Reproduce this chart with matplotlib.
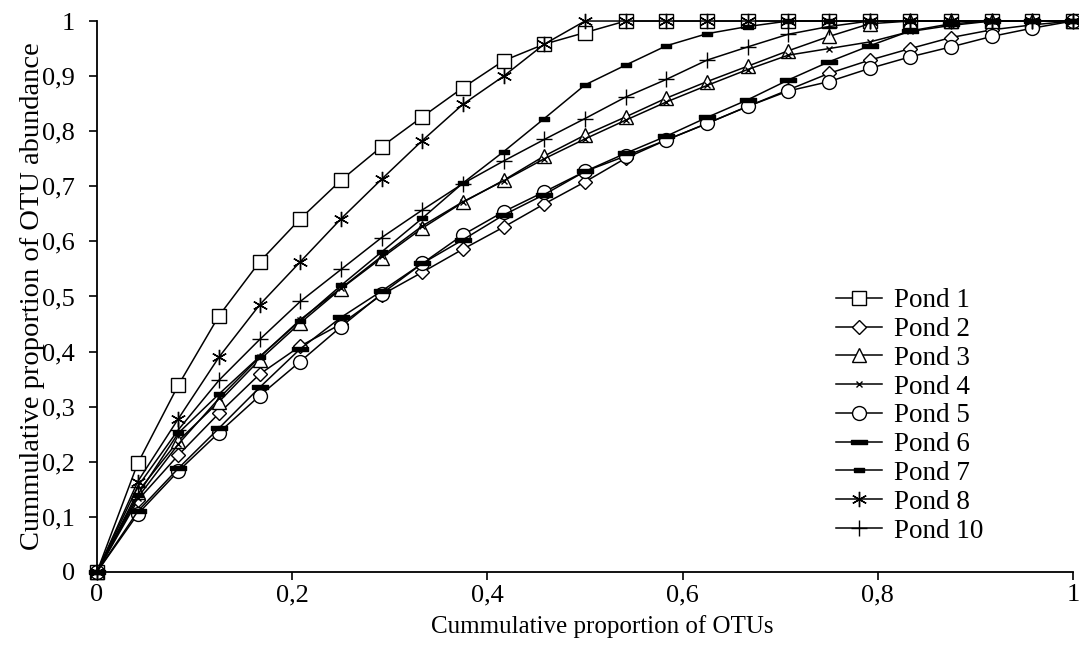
import matplotlib
matplotlib.use("Agg")
import matplotlib.pyplot as plt
from matplotlib.ticker import FuncFormatter

# proportion of OTUs (25 steps)
otu_frac = [0, 0.0417, 0.0833, 0.125, 0.1667, 0.2083, 0.25, 0.2917, 0.3333,
            0.375, 0.4167, 0.4583, 0.5, 0.5417, 0.5833, 0.625, 0.6667,
            0.7083, 0.75, 0.7917, 0.8333, 0.875, 0.9167, 0.9583, 1]

pond1 = [0, 0.197, 0.339, 0.465, 0.563, 0.641, 0.711, 0.772, 0.826, 0.879,
         0.928, 0.958, 0.979, 1, 1, 1, 1, 1, 1, 1, 1, 1, 1, 1, 1]
pond2 = [0, 0.130, 0.212, 0.288, 0.359, 0.410, 0.450, 0.503, 0.544, 0.586,
         0.626, 0.668, 0.708, 0.751, 0.784, 0.814, 0.845, 0.875, 0.905, 0.929,
         0.950, 0.970, 0.984, 0.993, 1]
pond3 = [0, 0.145, 0.238, 0.309, 0.385, 0.452, 0.514, 0.570, 0.624, 0.671,
         0.711, 0.755, 0.793, 0.826, 0.860, 0.890, 0.918, 0.946, 0.972, 0.995,
         1, 1, 1, 1, 1]
pond4 = [0, 0.135, 0.232, 0.315, 0.390, 0.458, 0.515, 0.573, 0.628, 0.672,
         0.710, 0.750, 0.786, 0.820, 0.853, 0.883, 0.912, 0.938, 0.950, 0.962,
         0.981, 0.992, 1, 1, 1]
pond5 = [0, 0.105, 0.183, 0.253, 0.320, 0.382, 0.445, 0.505, 0.560, 0.612,
         0.654, 0.690, 0.727, 0.755, 0.784, 0.814, 0.845, 0.873, 0.890, 0.914,
         0.935, 0.953, 0.972, 0.987, 1]
pond6 = [0, 0.110, 0.188, 0.261, 0.335, 0.405, 0.462, 0.510, 0.560, 0.603,
         0.648, 0.685, 0.727, 0.760, 0.791, 0.825, 0.857, 0.893, 0.926, 0.955,
         0.982, 0.995, 1, 1, 1]
pond7 = [0, 0.140, 0.252, 0.323, 0.391, 0.456, 0.520, 0.581, 0.642, 0.706,
         0.763, 0.823, 0.884, 0.920, 0.955, 0.977, 0.990, 1, 1, 1, 1, 1, 1, 1, 1]
pond8 = [0, 0.164, 0.278, 0.390, 0.485, 0.563, 0.641, 0.713, 0.783, 0.849,
         0.900, 0.958, 1, 1, 1, 1, 1, 1, 1, 1, 1, 1, 1, 1, 1]
pond10 = [0, 0.155, 0.258, 0.348, 0.422, 0.491, 0.549, 0.607, 0.657, 0.705,
          0.746, 0.785, 0.823, 0.862, 0.894, 0.929, 0.953, 0.976, 0.990, 1,
          1, 1, 1, 1, 1]

labels = ["Pond 1", "Pond 2", "Pond 3", "Pond 4", "Pond 5",
          "Pond 6", "Pond 7", "Pond 8", "Pond 10"]
series = [pond1, pond2, pond3, pond4, pond5, pond6, pond7, pond8, pond10]

# thick and thin horizontal bars for ponds 6 and 7
bar_wide = [(-1, -0.3), (1, -0.3), (1, 0.3), (-1, 0.3), (-1, -0.3)]
bar_small = [(-1, -0.45), (1, -0.45), (1, 0.45), (-1, 0.45), (-1, -0.45)]

styles = [
    dict(marker="s", ms=10, mfc="white"),
    dict(marker="D", ms=7, mfc="white"),
    dict(marker="^", ms=10, mfc="white"),
    dict(marker="x", ms=4, mew=1),
    dict(marker="o", ms=10, mfc="white"),
    dict(marker=bar_wide, ms=11, mfc="black"),
    dict(marker=bar_small, ms=7, mfc="black"),
    dict(marker=(6, 2, 0), ms=11, mew=1),
    dict(marker="+", ms=11, mew=1),
]

plt.rcParams["font.family"] = ["Liberation Serif", "DejaVu Serif"]

fig = plt.figure(figsize=(10.79, 6.61), dpi=100)
ax = fig.add_axes([0.0899, 0.1347, 0.9045, 0.8335])

for vals, lab, st in zip(series, labels, styles):
    ax.plot(otu_frac, vals, color="black", lw=1.1, mec="black",
            label=lab, clip_on=False, **st)

ax.set_xlim(0, 1)
ax.set_ylim(0, 1)
ax.set_xticks([0, 0.2, 0.4, 0.6, 0.8, 1])
ax.set_yticks([0, 0.1, 0.2, 0.3, 0.4, 0.5, 0.6, 0.7, 0.8, 0.9, 1])

comma = FuncFormatter(lambda v, p: ("%g" % round(v, 2)).replace(".", ","))
ax.xaxis.set_major_formatter(comma)
ax.yaxis.set_major_formatter(comma)
ax.tick_params(axis="both", labelsize=19, direction="out", length=6,
               width=1.2)
ax.tick_params(axis="x", pad=3)
ax.tick_params(axis="y", pad=10)

ax.spines["top"].set_visible(False)
ax.spines["right"].set_visible(False)
ax.spines["left"].set_linewidth(1.3)
ax.spines["bottom"].set_linewidth(1.3)

ax.set_xlabel("Cummulative proportion of OTUs", fontsize=18)
ax.xaxis.set_label_coords(0.518, -0.078)
ax.set_ylabel("Cummulative proportion of OTU abundance", fontsize=20.5,
              labelpad=-2)

ax.legend(loc="upper left", bbox_to_anchor=(0.775, 0.564),
          bbox_transform=fig.transFigure, frameon=False, fontsize=19.5,
          handlelength=1.7, handletextpad=0.45, labelspacing=0.14,
          borderaxespad=0, borderpad=0)

fig.savefig("out.png", dpi=100)
